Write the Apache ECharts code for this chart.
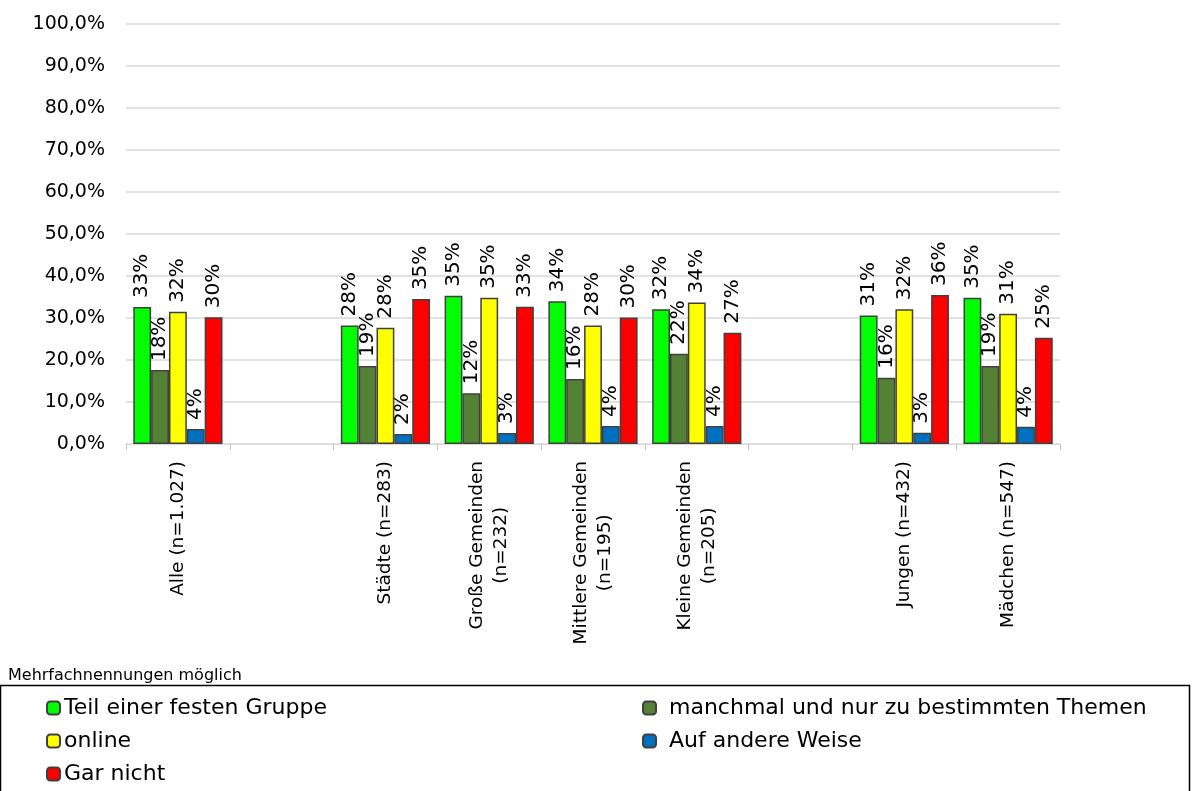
<!DOCTYPE html>
<html>
<head>
<meta charset="utf-8">
<script src="https://cdn.jsdelivr.net/npm/echarts@6/dist/echarts.min.js"></script>
<style>
html,body{margin:0;padding:0;background:#fff;}
#chart{width:1192px;height:791px;}
</style>
</head>
<body>
<div id="chart"></div>
<script>
const categories = ['Alle (n=1.027)', '', 'Städte (n=283)', 'Große Gemeinden\n(n=232)', 'Mittlere Gemeinden\n(n=195)', 'Kleine Gemeinden\n(n=205)', '', 'Jungen (n=432)', 'Mädchen (n=547)'];
const seriesNames = ['Teil einer festen Gruppe', 'manchmal und nur zu bestimmten Themen', 'online', 'Auf andere Weise', 'Gar nicht'];
const seriesColors = ['#00FF00', '#548235', '#FFFF00', '#0070C0', '#FF0000'];
const teilGruppe = [32.6, null, 28.2, 35.3, 34.0, 32.1, null, 30.6, 34.8];
const manchmal   = [17.6, null, 18.6, 12.1, 15.5, 21.5, null, 15.8, 18.6];
const online     = [31.5, null, 27.7, 34.8, 28.2, 33.7, null, 32.1, 31.0];
const andereWeise= [3.6, null, 2.4, 2.6, 4.3, 4.3, null, 2.7, 4.1];
const garNicht   = [30.2, null, 34.5, 32.7, 30.1, 26.5, null, 35.5, 25.3];
const yTicks = [0, 10, 20, 30, 40, 50, 60, 70, 80, 90, 100];
const noteText = 'Mehrfachnennungen möglich';

const allValues = [teilGruppe, manchmal, online, andereWeise, garNicht];
const FONT = 'DejaVu Sans';

const chart = echarts.init(document.getElementById('chart'), null, {renderer: 'canvas'});

const series = seriesNames.map((name, i) => ({
  name: name,
  type: 'bar',
  data: allValues[i],
  barGap: '0%',
  barCategoryGap: '14%',
  itemStyle: {color: seriesColors[i], borderColor: '#404040', borderWidth: 1.5},
  label: {
    show: true,
    position: 'top',
    rotate: 90,
    align: 'left',
    verticalAlign: 'middle',
    distance: 9,
    fontFamily: FONT,
    fontSize: 20,
    color: '#000',
    formatter: p => (p.value == null ? '' : Math.round(p.value) + '%')
  }
}));

chart.setOption({
  animation: false,
  backgroundColor: '#fff',
  textStyle: {fontFamily: FONT},
  grid: {left: 126, right: 132, top: 24, bottom: 347, containLabel: false},
  xAxis: {
    type: 'category',
    data: categories,
    axisLine: {show: true, lineStyle: {color: '#d9d9d9', width: 1}},
    axisTick: {show: true, alignWithLabel: false, length: 6, lineStyle: {color: '#bfbfbf'}},
    axisLabel: {
      interval: 0,
      rotate: 90,
      margin: 17,
      fontFamily: FONT,
      fontSize: 18.5,
      color: '#000',
      formatter: v => v.split('\n').map(s => '{a|' + s + '}').join('\n'),
      rich: {a: {align: 'center', fontFamily: FONT, fontSize: 18.5, color: '#000', lineHeight: 24}}
    }
  },
  yAxis: {
    type: 'value',
    min: yTicks[0],
    max: yTicks[yTicks.length - 1],
    interval: 10,
    axisLine: {show: false},
    axisTick: {show: false},
    splitLine: {show: true, lineStyle: {color: '#d9d9d9', width: 1.5}},
    axisLabel: {
      margin: 21,
      fontFamily: FONT,
      fontSize: 19,
      color: '#000',
      formatter: v => v.toFixed(1).replace('.', ',') + '%'
    }
  },
  legend: [
    {
      data: [seriesNames[0], seriesNames[2], seriesNames[4]],
      orient: 'vertical',
      left: 41,
      top: 692,
      itemGap: 11,
      itemWidth: 13,
      itemHeight: 13,
      textStyle: {fontFamily: FONT, fontSize: 22, color: '#000', padding: [0, 0, 0, -1]},
      selectedMode: false
    },
    {
      data: [seriesNames[1], seriesNames[3]],
      orient: 'vertical',
      left: 637,
      top: 692,
      itemGap: 11,
      itemWidth: 13,
      itemHeight: 13,
      textStyle: {fontFamily: FONT, fontSize: 22, color: '#000', padding: [0, 0, 0, 8]},
      selectedMode: false
    }
  ],
  graphic: [
    {
      type: 'rect',
      shape: {x: 0.5, y: 685.5, width: 1189, height: 120},
      style: {fill: 'none', stroke: '#000', lineWidth: 1.5},
      z: 100
    },
    {
      type: 'text',
      left: 8,
      top: 668,
      style: {text: noteText, fontFamily: FONT, fontSize: 16, fill: '#000'}
    }
  ],
  series: series
});
</script>
</body>
</html>
